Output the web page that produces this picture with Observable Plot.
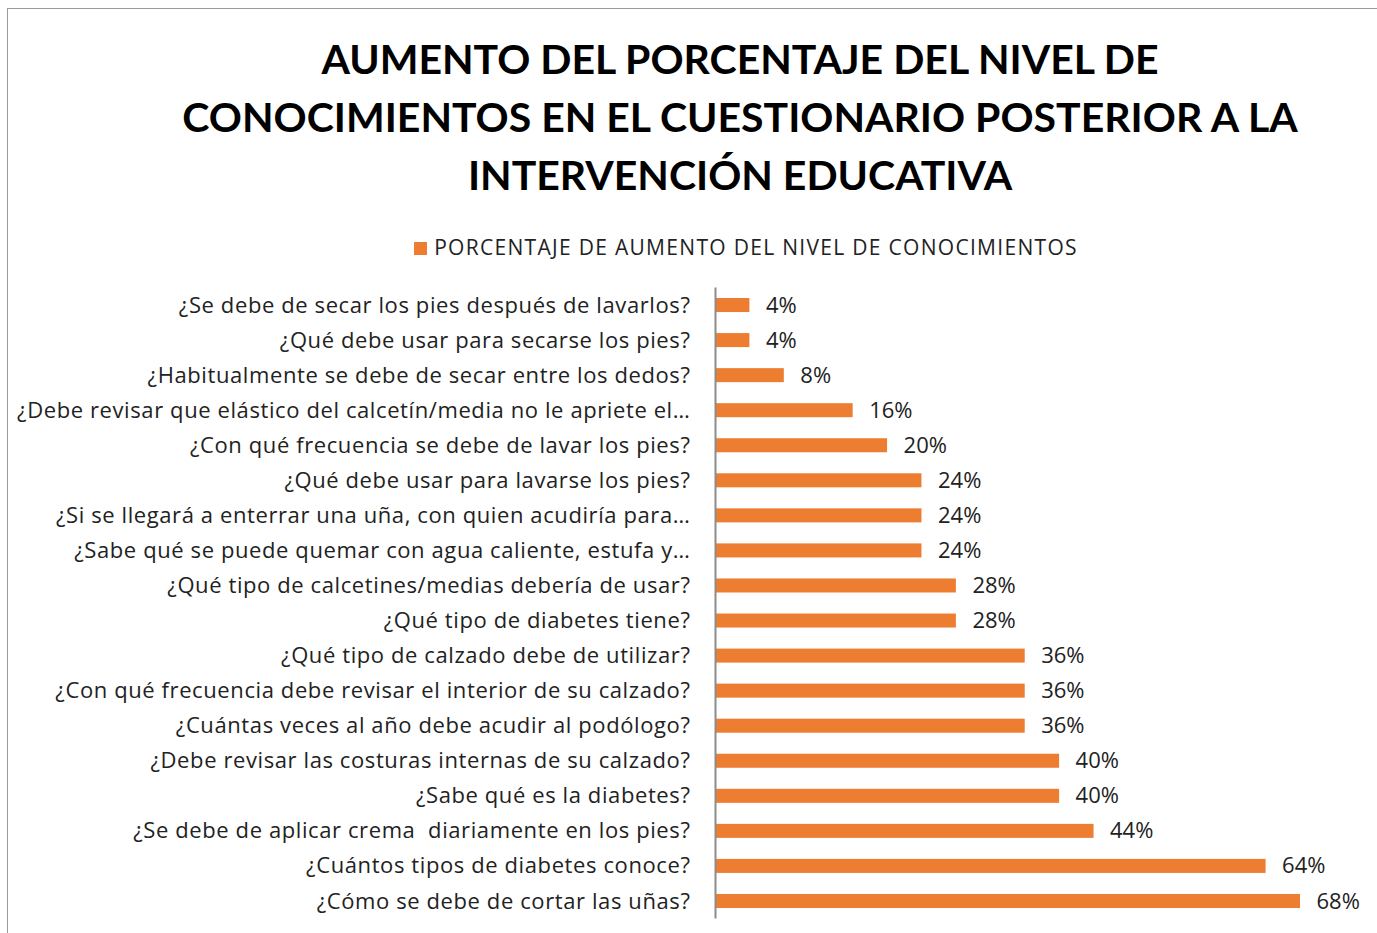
<!DOCTYPE html>
<html>
<head>
<meta charset="utf-8">
<script src="https://cdn.jsdelivr.net/npm/d3@7"></script>
<script src="https://cdn.jsdelivr.net/npm/@observablehq/plot@0.6"></script>
<style>
  html, body { margin: 0; padding: 0; background: #fff; }
  body { width: 1377px; height: 933px; overflow: hidden; position: relative; font-family: "Open Sans", Lato, sans-serif; color: #111; }
  #frame { position: absolute; left: 7px; top: 8px; width: 1400px; height: 1000px; border: 1px solid #9a9a9a; box-sizing: border-box; }
  #title { position: absolute; left: 0; width: 1480px; top: 30px; text-align: center; font-family: Lato, sans-serif; font-weight: 700; font-size: 41px; line-height: 58px; color: #000; }
  #legend { position: absolute; left: 0; width: 1492px; top: 233px; text-align: center; font-size: 21px; letter-spacing: 1.3px; color: #222; }
  #legend .sw { display: inline-block; width: 13px; height: 13px; background: #ED7D31; margin-right: 7px; vertical-align: 0px; }
  #chart { position: absolute; left: 0; top: 270px; }
</style>
</head>
<body>
<div id="frame"></div>
<div id="title">AUMENTO DEL PORCENTAJE DEL NIVEL DE<br>CONOCIMIENTOS EN EL CUESTIONARIO POSTERIOR A LA<br>INTERVENCIÓN EDUCATIVA</div>
<div id="legend"><span class="sw"></span>PORCENTAJE DE AUMENTO DEL NIVEL DE CONOCIMIENTOS</div>
<div id="chart"></div>
<script>
const questions = [
  "¿Se debe de secar los pies después de lavarlos?",
  "¿Qué debe usar para secarse los pies?",
  "¿Habitualmente se debe de secar entre los dedos?",
  "¿Debe revisar que elástico del calcetín/media no le apriete el…",
  "¿Con qué frecuencia se debe de lavar los pies?",
  "¿Qué debe usar para lavarse los pies?",
  "¿Si se llegará a enterrar una uña, con quien acudiría para…",
  "¿Sabe qué se puede quemar con agua caliente, estufa y…",
  "¿Qué tipo de calcetines/medias debería de usar?",
  "¿Qué tipo de diabetes tiene?",
  "¿Qué tipo de calzado debe de utilizar?",
  "¿Con qué frecuencia debe revisar el interior de su calzado?",
  "¿Cuántas veces al año debe acudir al podólogo?",
  "¿Debe revisar las costuras internas de su calzado?",
  "¿Sabe qué es la diabetes?",
  "¿Se debe de aplicar crema  diariamente en los pies?",
  "¿Cuántos tipos de diabetes conoce?",
  "¿Cómo se debe de cortar las uñas?"
];
const increases = [4, 4, 8, 16, 20, 24, 24, 24, 28, 28, 36, 36, 36, 40, 40, 44, 64, 68];
const seriesName = "PORCENTAJE DE AUMENTO DEL NIVEL DE CONOCIMIENTOS";

const data = questions.map((q, i) => ({question: q, value: increases[i]}));

const chart = Plot.plot({
  width: 1377,
  height: 663,
  marginLeft: 715,
  marginRight: 77,
  marginTop: 17.5,
  marginBottom: 14.5,
  style: {fontFamily: "'Open Sans', Lato, sans-serif", fontSize: "22px", color: "#222", background: "transparent"},
  x: {domain: [0, 68], axis: null},
  y: {domain: questions, paddingInner: 0.6, paddingOuter: 0.3, round: false, label: null, tickSize: 0, tickPadding: 25},
  marks: [
    Plot.barX(data, {x: "value", y: "question", fill: "#ED7D31"}),
    Plot.ruleX([0], {stroke: "#8c8c8c", strokeWidth: 2}),
    Plot.text(data, {x: "value", y: "question", text: d => d.value + "%", textAnchor: "start", dx: 16, fill: "#222", fontSize: 22})
  ]
});
chart.querySelectorAll("[aria-label='y-axis tick label']").forEach(g => { g.setAttribute("font-size", "22px"); g.setAttribute("letter-spacing", "0.6px"); });
document.getElementById("chart").appendChild(chart);
</script>
</body>
</html>
